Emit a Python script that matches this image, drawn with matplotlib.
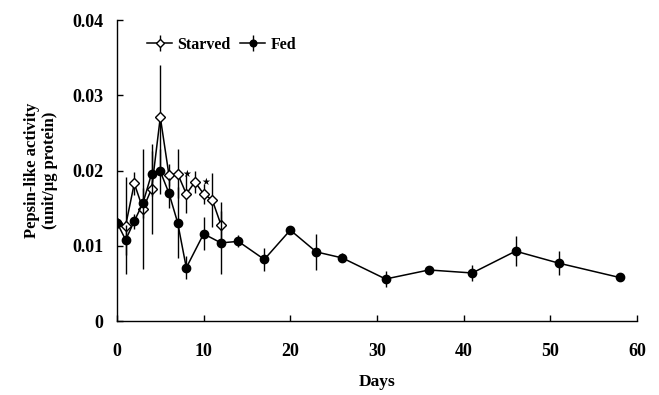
import matplotlib.pyplot as plt
import numpy as np

plt.rcParams['font.family'] = ['Liberation Serif', 'DejaVu Serif']
plt.rcParams['font.weight'] = 'bold'

# starved group (days 0-12)
starved_days = [0, 1, 2, 3, 4, 5, 6, 7, 8, 9, 10, 11, 12]
starved_vals = [0.0130, 0.0127, 0.0183, 0.0149, 0.0176, 0.0271, 0.0194, 0.0196,
                0.0169, 0.0185, 0.0169, 0.0161, 0.0128]
starved_err = [0.0005, 0.0064, 0.0015, 0.0080, 0.0060, 0.0070, 0.0015, 0.0033,
               0.0025, 0.0015, 0.0013, 0.0036, 0.0030]

# fed group
fed_days = [0, 1, 2, 3, 4, 5, 6, 7, 8, 10, 12, 14, 17, 20, 23, 26, 31, 36, 41, 46, 51, 58]
fed_vals = [0.0131, 0.0108, 0.0133, 0.0157, 0.0196, 0.0199, 0.0170, 0.0131, 0.0071,
            0.0116, 0.0104, 0.0106, 0.0082, 0.0121, 0.0092, 0.0084, 0.0056, 0.0068,
            0.0064, 0.0093, 0.0077, 0.0058]
fed_err = [0.0005, 0.0020, 0.0010, 0.0020, 0.0030, 0.0030, 0.0020, 0.0047, 0.0015,
           0.0022, 0.0042, 0.0008, 0.0015, 0.0005, 0.0024, 0.0006, 0.0010, 0.0002,
           0.0010, 0.0020, 0.0016, 0.0002]

# significance marks
star_days = [8.1, 10.2]
star_vals = [0.0195, 0.0185]

fig = plt.figure(figsize=(6.59, 3.95), dpi=100)
ax = fig.add_axes([0.1775, 0.187, 0.789, 0.762])

ax.errorbar(starved_days, starved_vals, yerr=starved_err, color='black', lw=1.1,
            elinewidth=1.0, capsize=0, marker='D', ms=5.5, mfc='white', mec='black',
            mew=1.0, label='Starved', zorder=2)
ax.errorbar(fed_days, fed_vals, yerr=fed_err, color='black', lw=1.1, elinewidth=1.0,
            capsize=0, marker='o', ms=6, mfc='black', mec='black', label='Fed', zorder=3)

for d, v in zip(star_days, star_vals):
    ax.text(d, v, '\u2605', ha='center', va='center', fontsize=7, family='DejaVu Sans')

ax.set_xlim(0, 60)
ax.set_ylim(0, 0.04)
ax.set_xticks(np.arange(0, 61, 10))
ax.set_yticks([0, 0.01, 0.02, 0.03, 0.04])
ax.set_yticklabels(['0', '0.01', '0.02', '0.03', '0.04'])
ax.tick_params(direction='in', length=4, width=1, labelsize=13)
ax.tick_params(axis='x', pad=16)
ax.tick_params(axis='y', pad=10)
for s in ['top', 'right']:
    ax.spines[s].set_visible(False)
for s in ['left', 'bottom']:
    ax.spines[s].set_linewidth(1.0)

ax.set_xlabel('Days', fontsize=12.5, fontweight='bold', labelpad=10)
ax.set_ylabel('Pepsin-like activity\n(unit/\u03bcg protein)', fontsize=12,
              fontweight='bold', labelpad=10)

ax.legend(loc='upper left', bbox_to_anchor=(0.045, 0.965),
          ncol=2, frameon=False, fontsize=11.5, handlelength=1.6, handletextpad=0.3,
          columnspacing=0.6, borderaxespad=0, markerscale=0.8)

fig.savefig('out.png', dpi=100)
